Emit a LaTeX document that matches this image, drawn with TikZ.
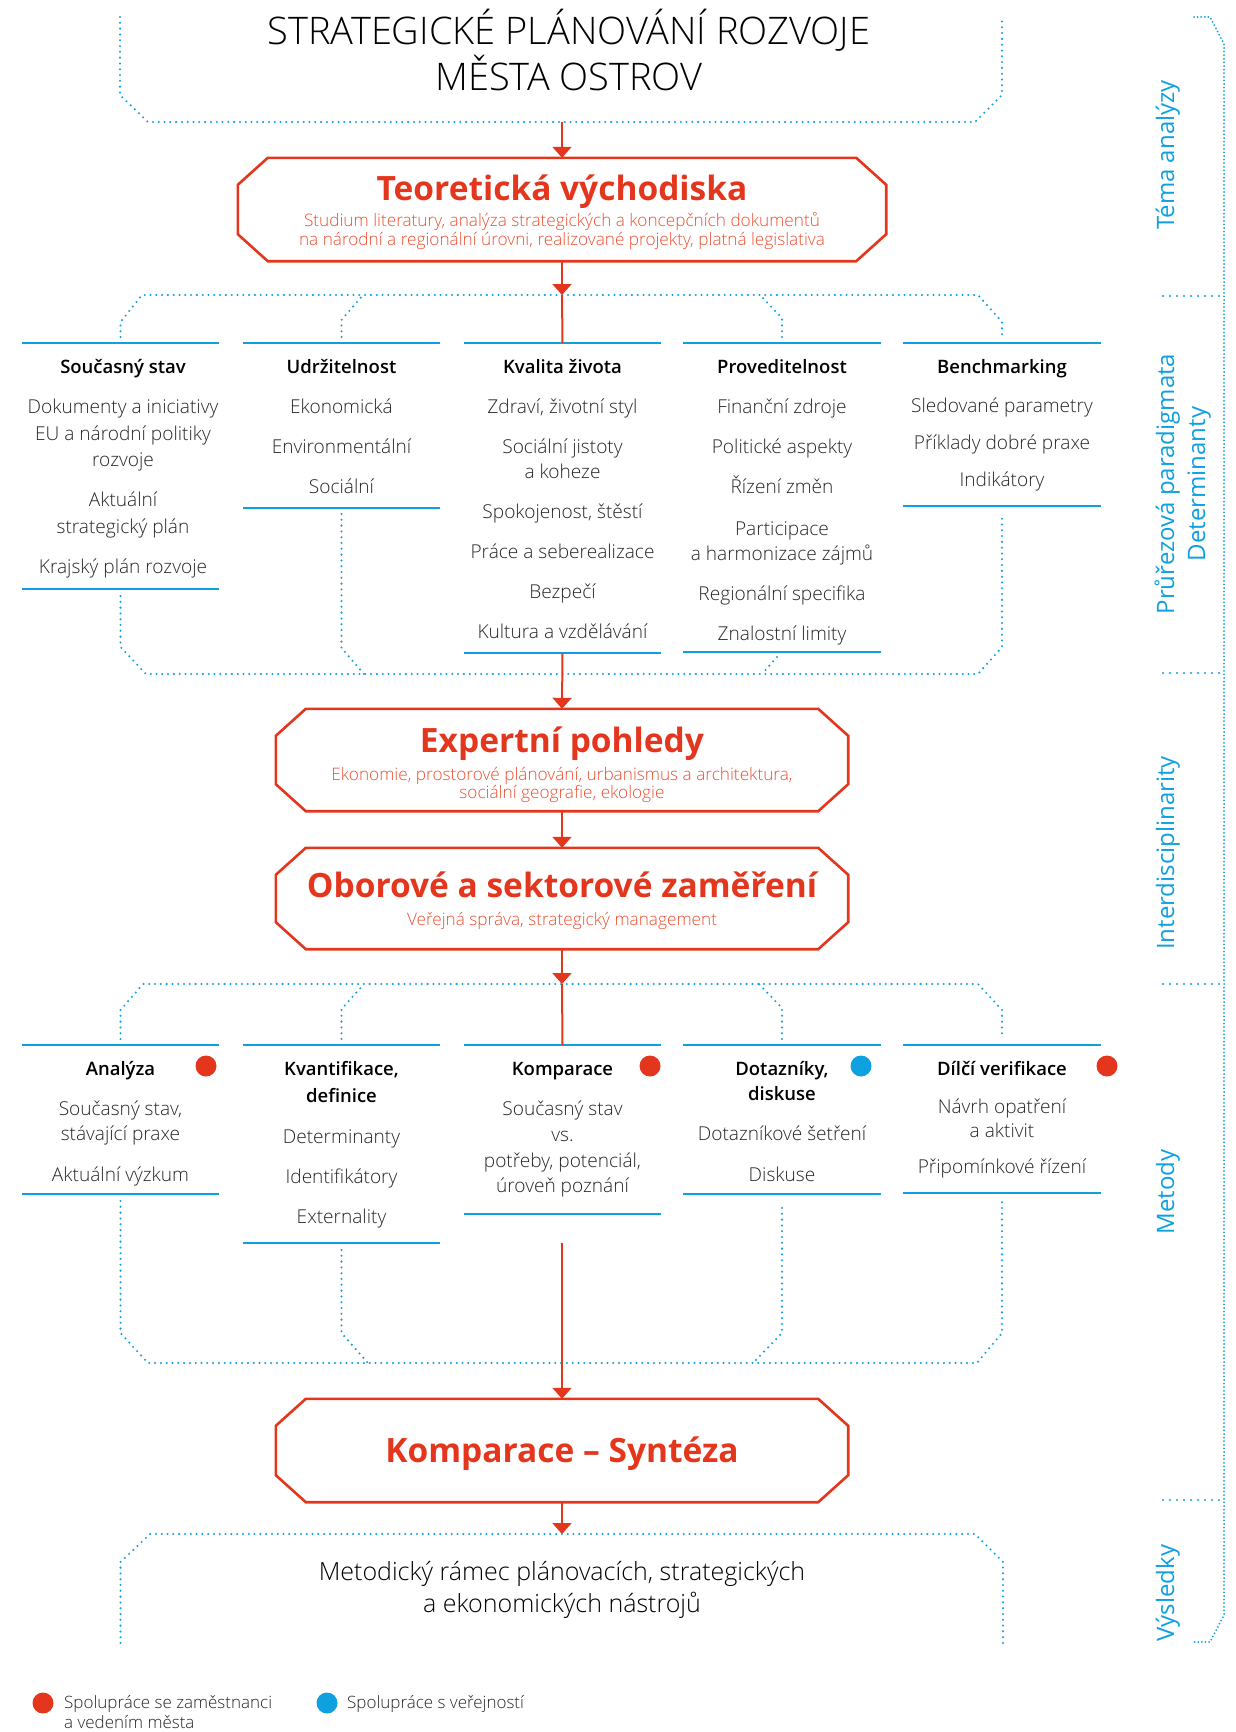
\documentclass[tikz,border=0pt]{standalone}
\usepackage{fontspec}
\setmainfont{Open Sans}
\IfFontExistsTF{Open Sans Light}{\newfontfamily\lightf{Open Sans Light}}{\newfontfamily\lightf{Open Sans}}
\IfFontExistsTF{Open Sans Semibold}{\newfontfamily\semif{Open Sans Semibold}}{%
  \IfFontExistsTF{Open Sans SemiBold}{\newfontfamily\semif{Open Sans SemiBold}}{\let\semif\bfseries}}
\usetikzlibrary{arrows.meta,calc}
\definecolor{cred}{HTML}{E4361D}
\definecolor{csub}{HTML}{EB4E30}
\definecolor{cblue}{HTML}{0FA0E0}
\definecolor{ctext}{HTML}{262626}
\tikzset{
  dotl/.style={cblue, line width=2.3pt, line cap=round, dash pattern=on 0pt off 5.8pt},
  dotd/.style={cblue, line width=2pt, line cap=round, dash pattern=on 0pt off 3.6pt},
  dots/.style={cblue, line width=2.3pt, line cap=round, dash pattern=on 0pt off 7pt},
  bline/.style={cblue, line width=2pt},
  rline/.style={cred, line width=2pt},
  rarrow/.style={cred, line width=2pt, -{Triangle[width=19pt,length=11pt]}},
  rbox/.style={cred, line width=2.6pt, line join=miter},
  colbox/.style={inner sep=0pt, minimum width=197pt, draw=none},
  item/.style={anchor=base, inner sep=0pt, text=ctext, font=\lightf\fontsize{19.1}{22}\selectfont},
  head/.style={anchor=base, inner sep=0pt, text=black, font=\semif\fontsize{18.5}{22}\selectfont},
  rtitle/.style={anchor=base, inner sep=0pt, text=cred, font=\bfseries\fontsize{33.5}{38}\selectfont},
  rsub/.style={anchor=base, inner sep=0pt, text=csub, font=\lightf\fontsize{17.2}{20}\selectfont},
  side/.style={anchor=base, rotate=90, inner sep=0pt, text=cblue, font=\fontsize{24}{28}\selectfont},
  legend/.style={anchor=base west, inner sep=0pt, text=ctext, font=\lightf\fontsize{17}{20}\selectfont},
  big/.style={anchor=base, inner sep=0pt, text=black, font=\lightf\fontsize{25}{28}\selectfont},
  rdot/.style={circle, fill=cred, inner sep=0pt, minimum size=21pt},
  bdot/.style={circle, fill=cblue, inner sep=0pt, minimum size=21pt},
}
\newcommand\itm[4]{\node[item] (#1) at (#2,#3) {#4};}
\newcommand\hd[4]{\node[head] (#1) at (#2,#3) {#4};}
\newcommand\colnode[4]{%
  \node[colbox, minimum height={#4-#3}] (#1) at (#2,{(#3+#4)/2}) {};
  \draw[bline] (#1.north west) -- (#1.north east);
  \draw[bline] (#1.south west) -- (#1.south east);}
\newcommand\obox[5]{%
  \node[inner sep=0pt, minimum width={#4-#2}, minimum height={#5-#3}] (#1) at ({(#2+#4)/2},{(#3+#5)/2}) {};
  \draw[rbox] ($(#1.north west)+(30,0)$) -- ($(#1.north east)+(-30,0)$) -- ($(#1.north east)+(0,27)$)
    -- ($(#1.south east)+(0,-27)$) -- ($(#1.south east)+(-30,0)$) -- ($(#1.south west)+(30,0)$)
    -- ($(#1.south west)+(0,-27)$) -- ($(#1.north west)+(0,27)$) -- cycle;}
\begin{document}
\begin{tikzpicture}[x=1pt,y=-1pt]
\useasboundingbox (0,0) rectangle (1236,1732);

% ---------- title ----------
\node[anchor=base, inner sep=0pt, font=\lightf\fontsize{38}{40}\selectfont, text=black] (title1) at (569,44) {STRATEGICKÉ PLÁNOVÁNÍ ROZVOJE};
\node[anchor=base, inner sep=0pt, font=\lightf\fontsize{38}{40}\selectfont, text=black] (title2) at (569,90) {MĚSTA OSTROV};
\draw[dotl] (120,17) -- (120,95) -- (148,122) -- (975,122) -- (1002,95) -- (1002,17);
\coordinate (tb) at (562,122);

% ---------- box 1 ----------
\obox{b1}{238}{158}{886}{261}
\node[rtitle] (b1t) at (562,200) {Teoretická východiska};
\node[rsub] (b1s1) at (562,226) {Studium literatury, analýza strategických a koncepčních dokumentů};
\node[rsub] (b1s2) at (562,245) {na národní a regionální úrovni, realizované projekty, platná legislativa};
\draw[rarrow] (tb) -- (b1.north);

% ---------- section 2 ----------
\colnode{c1}{120.5}{343}{589}
\colnode{c2}{341.5}{343}{508}
\colnode{c3}{562.5}{343}{653}
\colnode{c4}{782}{343}{652}
\colnode{c5}{1002}{343}{506}
\coordinate (s2) at (562,295);
\draw[dotl] (120.5,337) -- (120.5,322) -- (142,295) -- (978,295) -- (1002,322) -- (1002,337);
\draw[dotl] (341.5,337) -- (341.5,320) -- (363,295);
\draw[dotl] (782,337) -- (782,318) -- (760,295);
\draw[dotl] (120.5,596) -- (120.5,647) -- (146,674) -- (978,674) -- (1002,647) -- (1002,513);
\draw[dotl] (341.5,514) -- (341.5,648) -- (364,674);
\draw[dotl] (777,657) -- (762,674);
\draw[rarrow] (b1.south) -- (s2);
\draw[rline] (s2) -- (c3.north);

\hd{h1}{123}{373}{Současný stav}
\itm{i1a}{123}{413}{Dokumenty a iniciativy}
\itm{i1b}{123}{440}{EU a národní politiky}
\itm{i1c}{123}{466}{rozvoje}
\itm{i1d}{123}{506}{Aktuální}
\itm{i1e}{123}{533}{strategický plán}
\itm{i1f}{123}{573}{Krajský plán rozvoje}

\hd{h2}{341.5}{373}{Udržitelnost}
\itm{i2a}{341.5}{413}{Ekonomická}
\itm{i2b}{341.5}{453}{Environmentální}
\itm{i2c}{341.5}{493}{Sociální}

\hd{h3}{562.5}{373}{Kvalita života}
\itm{i3a}{562.5}{413}{Zdraví, životní styl}
\itm{i3b}{562.5}{453}{Sociální jistoty}
\itm{i3c}{562.5}{478}{a koheze}
\itm{i3d}{562.5}{518}{Spokojenost, štěstí}
\itm{i3e}{562.5}{558}{Práce a seberealizace}
\itm{i3f}{562.5}{598}{Bezpečí}
\itm{i3g}{562.5}{638}{Kultura a vzdělávání}

\hd{h4}{782}{373}{Proveditelnost}
\itm{i4a}{782}{413}{Finanční zdroje}
\itm{i4b}{782}{453}{Politické aspekty}
\itm{i4c}{782}{493}{Řízení změn}
\itm{i4d}{782}{535}{Participace}
\itm{i4e}{782}{560}{a harmonizace zájmů}
\itm{i4f}{782}{600}{Regionální specifika}
\itm{i4g}{782}{640}{Znalostní limity}

\hd{h5}{1002}{373}{Benchmarking}
\itm{i5a}{1002}{412}{Sledované parametry}
\itm{i5b}{1002}{449}{Příklady dobré praxe}
\itm{i5c}{1002}{486}{Indikátory}

% ---------- boxes 2, 3 ----------
\obox{b2}{276}{709}{848}{811}
\node[rtitle] (b2t) at (562,752) {Expertní pohledy};
\node[rsub] (b2s1) at (562,780) {Ekonomie, prostorové plánování, urbanismus a architektura,};
\node[rsub] (b2s2) at (562,798) {sociální geografie, ekologie};
\draw[rarrow] (c3.south) -- (b2.north);

\obox{b3}{276}{848}{848}{949}
\node[rtitle] (b3t) at (562,897) {Oborové a sektorové zaměření};
\node[rsub] (b3s1) at (562,925) {Veřejná správa, strategický management};
\draw[rarrow] (b2.south) -- (b3.north);

% ---------- section 4 ----------
\colnode{k1}{120.5}{1045}{1194}
\colnode{k2}{341.5}{1045}{1243}
\colnode{k3}{562.5}{1045}{1214}
\colnode{k4}{782}{1045}{1194}
\colnode{k5}{1002}{1045}{1193}
\coordinate (s4) at (562,984);
\draw[dotl] (120.5,1039) -- (120.5,1010) -- (143,984) -- (978,984) -- (1002,1010) -- (1002,1039);
\draw[dotl] (341.5,1039) -- (341.5,1009) -- (364,984);
\draw[dotl] (782,1039) -- (782,1008) -- (759,984);
\draw[dotl] (120.5,1201) -- (120.5,1333) -- (148,1363) -- (977,1363) -- (1002,1333) -- (1002,1200);
\draw[dotl] (341.5,1250) -- (341.5,1333) -- (368,1363);
\draw[dotl] (782,1208) -- (782,1333) -- (753,1363);
\draw[rarrow] (b3.south) -- (s4);
\draw[rline] (s4) -- (k3.north);

\hd{g1}{120.5}{1075}{Analýza}
\node[rdot] (d1) at (206,1066) {};
\itm{j1a}{120.5}{1115}{Současný stav,}
\itm{j1b}{120.5}{1140}{stávající praxe}
\itm{j1c}{120.5}{1181}{Aktuální výzkum}

\hd{g2a}{341.5}{1075}{Kvantifikace,}
\hd{g2b}{341.5}{1102}{definice}
\itm{j2a}{341.5}{1143}{Determinanty}
\itm{j2b}{341.5}{1183}{Identifikátory}
\itm{j2c}{341.5}{1223}{Externality}

\hd{g3}{562.5}{1075}{Komparace}
\node[rdot] (d3) at (650,1066) {};
\itm{j3a}{562.5}{1115}{Současný stav}
\itm{j3b}{562.5}{1141}{vs.}
\itm{j3c}{562.5}{1167}{potřeby, potenciál,}
\itm{j3d}{562.5}{1192}{úroveň poznání}

\hd{g4a}{782}{1075}{Dotazníky,}
\hd{g4b}{782}{1100}{diskuse}
\node[bdot] (d4) at (861,1066) {};
\itm{j4a}{782}{1140}{Dotazníkové šetření}
\itm{j4b}{782}{1181}{Diskuse}

\hd{g5}{1002}{1075}{Dílčí verifikace}
\node[rdot] (d5) at (1107,1066) {};
\itm{j5a}{1002}{1113}{Návrh opatření}
\itm{j5b}{1002}{1137}{a aktivit}
\itm{j5c}{1002}{1173}{Připomínkové řízení}

% ---------- box 4 ----------
\obox{b4}{276}{1399}{848}{1502}
\node[rtitle] (b4t) at (562,1462) {Komparace – Syntéza};
\coordinate (k3b) at (562,1243);
\draw[rarrow] (k3b) -- (b4.north);

% ---------- result ----------
\coordinate (s5) at (562,1534);
\draw[rarrow] (b4.south) -- (s5);
\draw[dotl] (120.5,1643) -- (120.5,1562) -- (150,1534) -- (975,1534) -- (1003,1562) -- (1003,1643);
\node[big] (res1) at (562,1580) {Metodický rámec plánovacích, strategických};
\node[big] (res2) at (562,1612) {a ekonomických nástrojů};

% ---------- legend ----------
\node[rdot] (ld1) at (43,1703) {};
\node[legend] (lt1) at (64,1708) {Spolupráce se zaměstnanci};
\node[legend] (lt2) at (64,1728) {a vedením města};
\node[bdot] (ld2) at (327,1703) {};
\node[legend] (lt3) at (347,1708) {Spolupráce s veřejností};

% ---------- right side ----------
\draw[dotd] (1194,17) -- (1210,17) -- (1224,44) -- (1224,1615) -- (1210,1642) -- (1194,1642);
\draw[dots] (1163,296) -- (1224,296);
\draw[dots] (1163,673) -- (1224,673);
\draw[dots] (1163,984) -- (1224,984);
\draw[dots] (1163,1500) -- (1224,1500);
\node[side] (r1) at (1174,155) {Téma analýzy};
\node[side] (r2a) at (1174,484) {Průřezová paradigmata};
\node[side] (r2b) at (1205,484) {Determinanty};
\node[side] (r3) at (1174,853) {Interdisciplinarity};
\node[side] (r4) at (1174,1192) {Metody};
\node[side] (r5) at (1174,1593) {Výsledky};
\end{tikzpicture}
\end{document}
